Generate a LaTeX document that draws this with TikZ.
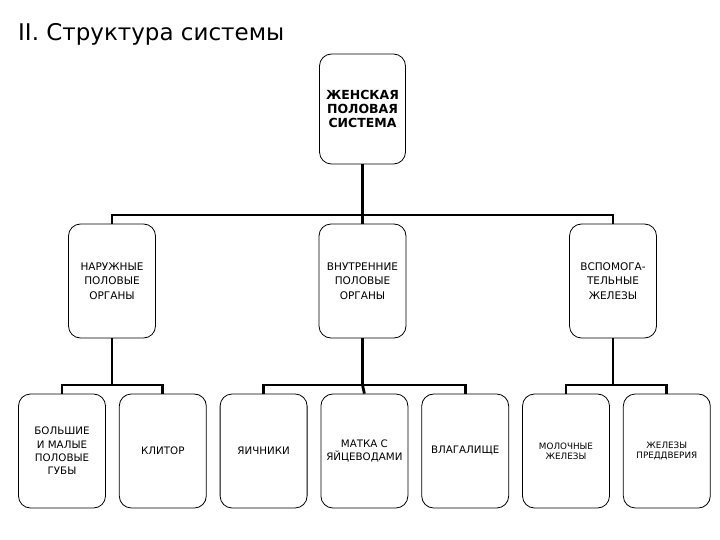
\documentclass[tikz,border=0pt]{standalone}
\usepackage{fontspec}
\setmainfont{DejaVu Sans}
\usepackage{tikz}
\usetikzlibrary{positioning}

\begin{document}
\begin{tikzpicture}[x=1pt, y=-1pt, node distance=13pt,
  box/.style={draw, line width=0.8pt, rounded corners=12pt, minimum width=87pt, minimum height=114pt, align=center, inner sep=1pt, font=\fontsize{10.5}{14.5}\selectfont},
  leaf/.style={box, font=\fontsize{10.3}{13.3}\selectfont},
  smallleaf/.style={box, font=\fontsize{8.8}{10}\selectfont},
  bus/.style={line width=2.8pt}]
\useasboundingbox (0,0) rectangle (720,540);
\node[anchor=base west, inner sep=0pt, font=\fontsize{23}{27}\selectfont] (title) at (18,41) {II. Структура системы};
\node[box, minimum height=110pt, minimum width=86pt, font=\bfseries\fontsize{12.5}{13.8}\selectfont] (sys) at (362.5,109) {ЖЕНСКАЯ\\ПОЛОВАЯ\\СИСТЕМА};
\node[box] (nar) at (112,281) {НАРУЖНЫЕ\\ПОЛОВЫЕ\\ОРГАНЫ};
\node[box] (vnu) at (362.5,281) {ВНУТРЕННИЕ\\ПОЛОВЫЕ\\ОРГАНЫ};
\node[box] (vsp) at (613,281) {ВСПОМОГА-\\ТЕЛЬНЫЕ\\ЖЕЛЕЗЫ};
\node[leaf] (gub) at (62,451) {БОЛЬШИЕ\\И МАЛЫЕ\\ПОЛОВЫЕ\\ГУБЫ};
\node[leaf, right=of gub] (kli) {КЛИТОР};
\node[leaf, right=of kli] (yai) {ЯИЧНИКИ};
\node[leaf, right=of yai] (mat) {МАТКА С\\ЯЙЦЕВОДАМИ};
\node[leaf, right=of mat] (vla) {ВЛАГАЛИЩЕ};
\node[smallleaf, right=of vla] (mol) {МОЛОЧНЫЕ\\ЖЕЛЕЗЫ};
\node[smallleaf, right=of mol] (pre) {ЖЕЛЕЗЫ\\ПРЕДДВЕРИЯ};
\coordinate (b0) at (362.5,215);
\coordinate (b1) at (112,385);
\coordinate (b2) at (362.5,385);
\coordinate (b3) at (613,385);
\draw[bus] (sys.south) -- (b0);
\draw[bus] (nar.north) |- (b0) -| (vsp.north);
\draw[bus] (b0) -- (vnu.north);
\draw[bus] (nar.south) -- (b1);
\draw[bus] (gub.north) |- (b1) -| (kli.north);
\draw[bus] (vnu.south) -- (b2);
\draw[bus] (yai.north) |- (b2) -| (vla.north);
\draw[bus] (b2) -- (mat.north);
\draw[bus] (vsp.south) -- (b3);
\draw[bus] (mol.north) |- (b3) -| (pre.north);
\end{tikzpicture}
\end{document}
